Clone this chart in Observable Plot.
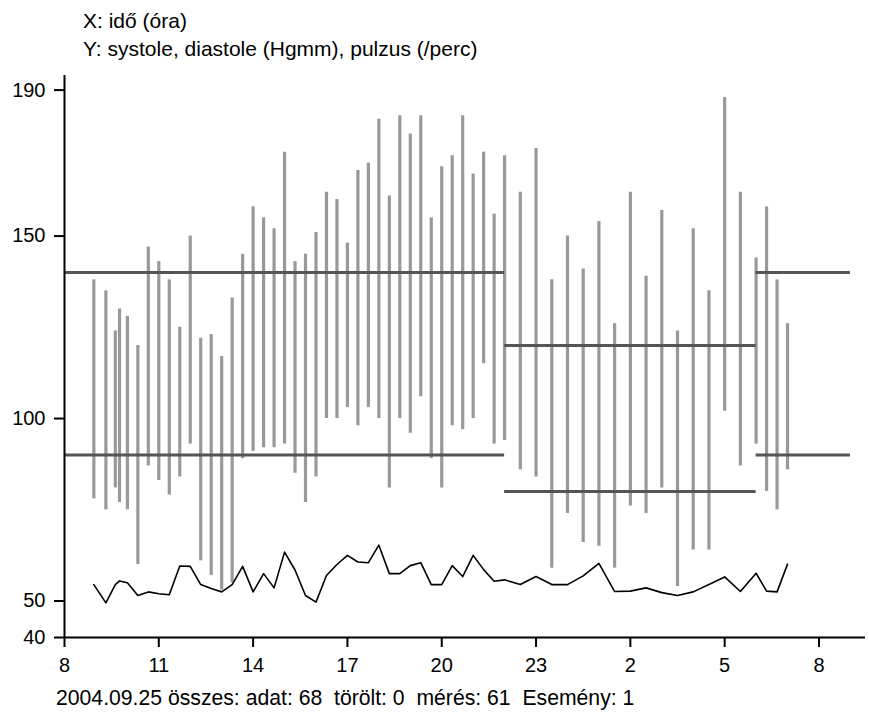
<!DOCTYPE html>
<html>
<head>
<meta charset="utf-8">
<script src="https://cdn.jsdelivr.net/npm/d3@7"></script>
<script src="https://cdn.jsdelivr.net/npm/@observablehq/plot@0.6"></script>
<style>
  html, body { margin: 0; padding: 0; background: #fff; overflow: hidden; }
  body { font-family: "Liberation Sans", Arial, sans-serif; color: #000; width: 869px; height: 713px; }
  #head { padding: 7px 0 0 83px; font-size: 21px; line-height: 28px; height: 63px; box-sizing: border-box; }
  #foot { padding-left: 56px; font-size: 21.2px; line-height: 28px; white-space: pre; margin-top: 1px; }
  #chart svg { display: block; }
</style>
</head>
<body>
<div id="head">
  <div>X: idő (óra)</div>
  <div>Y: systole, diastole (Hgmm), pulzus (/perc)</div>
</div>
<div id="chart"></div>
<div id="foot">2004.09.25 összes: adat: 68  törölt: 0  mérés: 61  Esemény: 1</div>
<script>
// Ambulatory blood pressure readings (clock time of each measurement)
const times = [
  "8:56", "9:19", "9:37", "9:45",
  "10:00", "10:20", "10:40", "11:00", "11:20", "11:40", "12:00", "12:20", "12:40", "13:00", "13:20", "13:40",
  "14:00", "14:20", "14:40", "15:00", "15:20", "15:40", "16:00", "16:20", "16:40", "17:00", "17:20", "17:40",
  "18:00", "18:20", "18:40", "19:00", "19:20", "19:40", "20:00", "20:20", "20:40", "21:00", "21:20", "21:40", "22:00",
  "22:30", "23:00", "23:30", "0:00", "0:30", "1:00", "1:30", "2:00", "2:30", "3:00", "3:30", "4:00", "4:30", "5:00", "5:30",
  "6:00", "6:20", "6:40", "7:00"
];
const systole = [
  138, 135, 124, 130,
  128, 120, 147, 143, 138, 125, 150, 122, 123, 117, 133, 145,
  158, 155, 152, 173, 143, 145, 151, 162, 160, 148, 168, 170,
  182, 161, 183, 178, 183, 155, 169, 172, 183, 167, 173, 156, 172,
  162, 174, 138, 150, 141, 154, 126, 162, 139, 157, 124, 152, 135, 188, 162,
  144, 158, 138, 126
];
const diastole = [
  78, 75, 81, 77,
  75, 60, 87, 83, 79, 84, 93, 61, 57, 53, 55, 89,
  91, 92, 92, 93, 85, 77, 84, 100, 100, 103, 98, 103,
  100, 81, 100, 96, 106, 89, 81, 98, 97, 100, 115, 93, 94,
  86, 84, 59, 74, 66, 65, 59, 76, 74, 81, 54, 64, 64, 102, 87,
  93, 80, 75, 86
];
const pulse = [
  54.5, 49.5, 54.5, 55.5,
  55, 51.5, 52.5, 52, 51.7, 59.6, 59.5, 54.5, 53.4, 52.5, 54.5, 59.5,
  52.5, 57.5, 53.6, 63.4, 58.5, 51.5, 49.7, 57, 60, 62.5, 60.7, 60.5,
  65.3, 57.5, 57.5, 59.7, 60.5, 54.5, 54.5, 59.7, 56.7, 62.5, 58.6, 55.4, 55.8,
  54.5, 56.7, 54.5, 54.5, 56.9, 60.3, 52.6, 52.7, 53.6, 52.3, 51.5, 52.5, 54.5, 56.6, 52.6,
  57.6, 52.7, 52.5, 60.1
];

// Limit periods (day / night / morning) with systolic and diastolic limits
const periodStart = ["8:00", "22:00", "6:00"];
const periodEnd = ["22:00", "6:00", "9:00"];
const systoleLimit = [140, 120, 140];
const diastoleLimit = [90, 80, 90];

// Axis ticks
const xTicks = [8, 11, 14, 17, 20, 23, 26, 29, 32];
const yTicks = [40, 50, 100, 150, 190];

// Hours counted from midnight of the first day; times before 8:00 belong to the next day
const toHour = s => {
  const [h, m] = s.split(":").map(Number);
  const v = h + m / 60;
  return v < 8 ? v + 24 : v;
};
const endHour = (s, start) => {
  const v = toHour(s);
  return v <= start ? v + 24 : v;
};

const readings = times.map((t, i) => ({
  t: toHour(t), sys: systole[i], dia: diastole[i], pulse: pulse[i]
}));
const periods = periodStart.map((s, i) => {
  const a = toHour(s);
  return { start: a, end: endHour(periodEnd[i], a), sys: systoleLimit[i], dia: diastoleLimit[i] };
});

const xMax = 33.48, yMin = 40, yMax = 194;

const chart = Plot.plot({
  width: 869,
  height: 620,
  marginLeft: 64,
  marginRight: 4,
  marginTop: 12,
  marginBottom: 46,
  style: { fontFamily: "'Liberation Sans', Arial, sans-serif", fontSize: "20px", color: "#000", background: "#fff" },
  x: { domain: [8, xMax] },
  y: { domain: [yMin, yMax] },
  marks: [
    // systole–diastole range for each reading
    Plot.ruleX(readings, { x: "t", y1: "dia", y2: "sys", stroke: "#999", strokeWidth: 3.2 }),
    // limit lines
    Plot.ruleY(periods, { y: "sys", x1: "start", x2: "end", stroke: "#555", strokeWidth: 3 }),
    Plot.ruleY(periods, { y: "dia", x1: "start", x2: "end", stroke: "#555", strokeWidth: 3 }),
    // pulse
    Plot.lineY(readings, { x: "t", y: "pulse", stroke: "#000", strokeWidth: 1.6 }),
    // axes
    Plot.ruleY([yMin], { x1: 8, x2: xMax, stroke: "#000", strokeWidth: 2 }),
    Plot.ruleX([8], { y1: yMin, y2: yMax, stroke: "#000", strokeWidth: 2 }),
    Plot.axisX({ ticks: xTicks, tickSize: 10, tickPadding: 10, strokeWidth: 2, label: null,
      tickFormat: d => String(d % 24) }),
    Plot.axisY({ ticks: yTicks, tickSize: 10, tickPadding: 9, strokeWidth: 2, label: null })
  ]
});
document.getElementById("chart").appendChild(chart);
</script>
</body>
</html>
